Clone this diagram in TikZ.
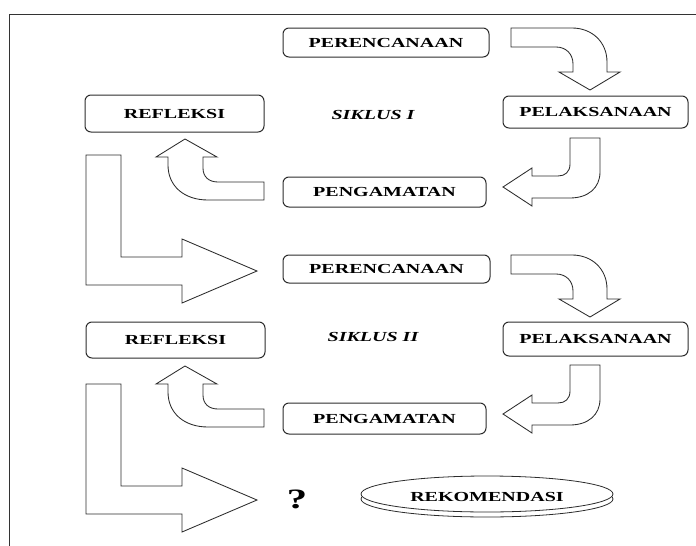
\documentclass[tikz,border=0pt]{standalone}
\usepackage{fontspec}
\setmainfont{Liberation Serif}[FakeStretch=1.45]
\definecolor{linegray}{HTML}{2C2C2C}
\tikzset{
  stage/.style={draw=linegray, line width=1pt, rounded corners=6pt, fill=white,
    inner sep=0pt, font=\fontsize{13.8}{16}\selectfont\bfseries},
  disc/.style={draw=linegray, line width=0.8pt, fill=white},
  cycletitle/.style={font=\fontsize{13.8}{16}\selectfont\bfseries\itshape},
  blockarrow/.style={draw=linegray, line width=0.85pt, fill=white, line join=miter},
}

\begin{document}
\begin{tikzpicture}[x=1pt, y=-1pt]
		\useasboundingbox (0,0) rectangle (696,546);
		\draw[line width=1.2pt, draw=black!80] (9.5,546) -- (9.5,14.5) -- (696,14.5);
		% siklus I
		\node[stage, minimum width=206pt, minimum height=29pt](ren1) at (386,42.5){PERENCANAAN};
		\node[stage, minimum width=185pt, minimum height=32pt](lak1) at (595.5,112){PELAKSANAAN};
		\node[stage, minimum width=203pt, minimum height=30pt](amat1) at (384.5,192){PENGAMATAN};
		\node[stage, minimum width=179pt, minimum height=37pt](ref1) at (174.5,113.5){REFLEKSI};
		\node[cycletitle](sik1) at (373,115){SIKLUS I};
		% siklus II
		\node[stage, minimum width=207pt, minimum height=28pt](ren2) at (386.5,269){PERENCANAAN};
		\node[stage, minimum width=185pt, minimum height=34pt](lak2) at (595.5,339){PELAKSANAAN};
		\node[stage, minimum width=203pt, minimum height=31pt](amat2) at (384.5,418.5){PENGAMATAN};
		\node[stage, minimum width=179pt, minimum height=36pt](ref2) at (175.5,340){REFLEKSI};
		\node[cycletitle](sik2) at (373,337){SIKLUS II};
		% block arrows of each cycle
		\foreach \dy in {0,227}{
			\begin{scope}[shift={(0,\dy)}]
				\draw[blockarrow] (511,28) -- (572,28) .. controls (592,28) and (607,42) .. (607,62)
					-- (607,72) -- (620,72) -- (590,90) -- (559,72) -- (573,72) -- (573,64)
					.. controls (573,54) and (566,47) .. (556,47) -- (511,47) -- cycle;
				\draw[blockarrow] (570,138) -- (600,138) -- (600,172) .. controls (600,188) and (588,198) .. (570,198)
					-- (532,198) -- (532,206) -- (503,187) -- (532,168) -- (532,176) -- (558,176)
					.. controls (565,176) and (570,172) .. (570,164) -- cycle;
				\draw[blockarrow] (264,182) -- (218,182) .. controls (209,182) and (203,177) .. (203,168)
					-- (203,157) -- (217,157) -- (185,139) -- (156,157) -- (168,157) -- (168,165)
					.. controls (168,186) and (184,200) .. (208,200) -- (264,200) -- cycle;
			\end{scope}
		}
		% from refleksi to the next stage
		\foreach \dy in {0,229}{
			\draw[blockarrow, shift={(0,\dy)}] (86,155) -- (121,155) -- (121,257) -- (182,257) -- (182,239)
				-- (257,271) -- (182,303) -- (182,285) -- (86,285) -- cycle;
		}
		\node[font=\fontsize{28}{32}\selectfont\bfseries](ask) at (297,499){?};
		% rekomendasi disc
		\coordinate(rekc) at (487,494);
		\draw[disc] ([yshift=-5pt]rekc) ellipse [x radius=126pt, y radius=18pt];
		\draw[disc] (rekc) ellipse [x radius=126pt, y radius=18pt];
		\node[font=\fontsize{13.8}{16}\selectfont\bfseries](rek) at ([yshift=-3pt]rekc){REKOMENDASI};
	\end{tikzpicture}
\end{document}
